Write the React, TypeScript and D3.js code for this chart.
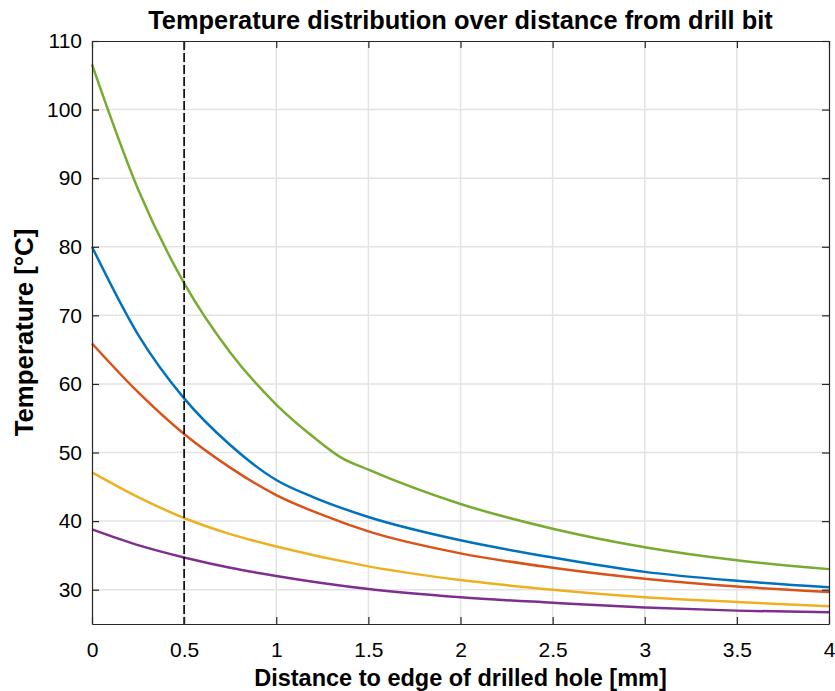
import { useEffect, useRef } from "react";
import * as d3 from "d3";

// distance from edge of hole [mm] vs temperature [°C], read per series
// (green and blue have a visible kink where the slope changes)
const greenX = [0, 0.25, 0.5, 0.75, 1, 1.2, 1.35, 1.5, 2, 2.5, 3, 3.5, 4];
const greenY = [106.6, 88.4, 74.7, 64.6, 57.0, 52.3, 49.3, 47.5, 42.5, 38.9, 36.2, 34.3, 33.0];

const blueX = [0, 0.25, 0.5, 0.75, 1, 1.2, 1.5, 2, 2.5, 3, 3.5, 4];
const blueY = [80.0, 67.2, 57.9, 51.1, 46.0, 43.5, 40.6, 37.2, 34.7, 32.6, 31.3, 30.35];

const orangeX = [0, 0.25, 0.5, 0.75, 1, 1.25, 1.5, 2, 2.5, 3, 3.5, 4];
const orangeY = [65.9, 58.8, 52.7, 47.8, 43.8, 40.9, 38.5, 35.3, 33.2, 31.6, 30.45, 29.65];

const yellowX = [0, 0.25, 0.5, 0.75, 1, 1.5, 2, 2.5, 3, 3.5, 4];
const yellowY = [47.1, 43.5, 40.45, 38.1, 36.3, 33.4, 31.4, 30.0, 28.9, 28.2, 27.6];

const purpleX = [0, 0.25, 0.5, 0.75, 1, 1.5, 2, 2.5, 3, 3.5, 4];
const purpleY = [38.8, 36.5, 34.7, 33.2, 32.0, 30.1, 28.9, 28.1, 27.4, 26.95, 26.7];

const xTicks = [0, 0.5, 1, 1.5, 2, 2.5, 3, 3.5, 4];
const yTicks = [30, 40, 50, 60, 70, 80, 90, 100, 110];
const markerX = 0.5;

const series = [
  { xs: blueX, ys: blueY, color: "#0072BD" },
  { xs: orangeX, ys: orangeY, color: "#D95319" },
  { xs: yellowX, ys: yellowY, color: "#EDB120" },
  { xs: purpleX, ys: purpleY, color: "#7E2F8E" },
  { xs: greenX, ys: greenY, color: "#77AC30" },
];

const FONT = "'Liberation Sans', Arial, Helvetica, sans-serif";

export default function App() {
  const svgRef = useRef<SVGSVGElement | null>(null);

  useEffect(() => {
    const width = 835;
    const height = 691;
    const margin = { top: 41, right: 6, bottom: 67, left: 92 };
    const innerWidth = width - margin.left - margin.right;
    const innerHeight = height - margin.top - margin.bottom;

    const svg = d3.select(svgRef.current);
    svg.selectAll("*").remove();
    svg.attr("width", width).attr("height", height);

    const x = d3.scaleLinear().domain([0, 4]).range([0, innerWidth]);
    const y = d3.scaleLinear().domain([25, 110]).range([innerHeight, 0]);

    const g = svg.append("g").attr("transform", `translate(${margin.left},${margin.top})`);

    // grid
    g.append("g")
      .selectAll("line")
      .data(xTicks.slice(1, -1))
      .join("line")
      .attr("x1", (d) => x(d))
      .attr("x2", (d) => x(d))
      .attr("y1", 0)
      .attr("y2", innerHeight)
      .attr("stroke", "#e3e3e3")
      .attr("stroke-width", 1.5);
    g.append("g")
      .selectAll("line")
      .data(yTicks.slice(0, -1))
      .join("line")
      .attr("x1", 0)
      .attr("x2", innerWidth)
      .attr("y1", (d) => y(d))
      .attr("y2", (d) => y(d))
      .attr("stroke", "#e3e3e3")
      .attr("stroke-width", 1.5);

    const line = d3
      .line<[number, number]>()
      .x((d) => x(d[0]))
      .y((d) => y(d[1]))
      .curve(d3.curveMonotoneX);

    series.forEach((s) => {
      const pts = s.xs.map((v, i) => [v, s.ys[i]] as [number, number]);
      g.append("path")
        .datum(pts)
        .attr("fill", "none")
        .attr("stroke", s.color)
        .attr("stroke-width", 2.5)
        .attr("d", line);
    });

    g.append("line")
      .attr("x1", x(markerX))
      .attr("x2", x(markerX))
      .attr("y1", 0)
      .attr("y2", innerHeight)
      .attr("stroke", "#000")
      .attr("stroke-width", 1.6)
      .attr("stroke-dasharray", "9,3");

    // axes: MATLAB-style box with inward ticks on all sides
    const axisColor = "#262626";
    const bottom = g.append("g").attr("transform", `translate(0,${innerHeight})`)
      .call(d3.axisBottom(x).tickValues(xTicks).tickFormat(d3.format("")).tickSizeInner(-7).tickSizeOuter(0).tickPadding(18));
    const left = g.append("g")
      .call(d3.axisLeft(y).tickValues(yTicks).tickFormat(d3.format("")).tickSizeInner(-7).tickSizeOuter(0).tickPadding(10));
    const top = g.append("g")
      .call(d3.axisTop(x).tickValues(xTicks).tickFormat(() => "").tickSizeInner(-7).tickSizeOuter(0));
    const right = g.append("g").attr("transform", `translate(${innerWidth},0)`)
      .call(d3.axisRight(y).tickValues(yTicks).tickFormat(() => "").tickSizeInner(-7).tickSizeOuter(0));

    [bottom, left, top, right].forEach((a) => {
      a.select(".domain").attr("stroke", axisColor).attr("stroke-width", 1.2);
      a.selectAll(".tick line").attr("stroke", axisColor).attr("stroke-width", 1.2);
      a.attr("font-size", 21).attr("font-family", FONT);
      a.selectAll("text").attr("fill", "#000");
    });

    svg.append("text")
      .attr("x", margin.left + innerWidth / 2)
      .attr("y", 29)
      .attr("text-anchor", "middle")
      .attr("font-family", FONT)
      .attr("font-weight", "bold")
      .attr("font-size", 25.4)
      .text("Temperature distribution over distance from drill bit");

    svg.append("text")
      .attr("x", margin.left + innerWidth / 2)
      .attr("y", 686)
      .attr("text-anchor", "middle")
      .attr("font-family", FONT)
      .attr("font-weight", "bold")
      .attr("font-size", 23.5)
      .text("Distance to edge of drilled hole [mm]");

    svg.append("text")
      .attr("transform", `translate(33,${margin.top + innerHeight / 2}) rotate(-90)`)
      .attr("text-anchor", "middle")
      .attr("font-family", FONT)
      .attr("font-weight", "bold")
      .attr("font-size", 25.8)
      .text("Temperature [°C]");
  }, []);

  return (
    <svg
      ref={svgRef}
      style={{ position: "absolute", left: 0, top: 0, background: "#fff", display: "block" }}
    />
  );
}
